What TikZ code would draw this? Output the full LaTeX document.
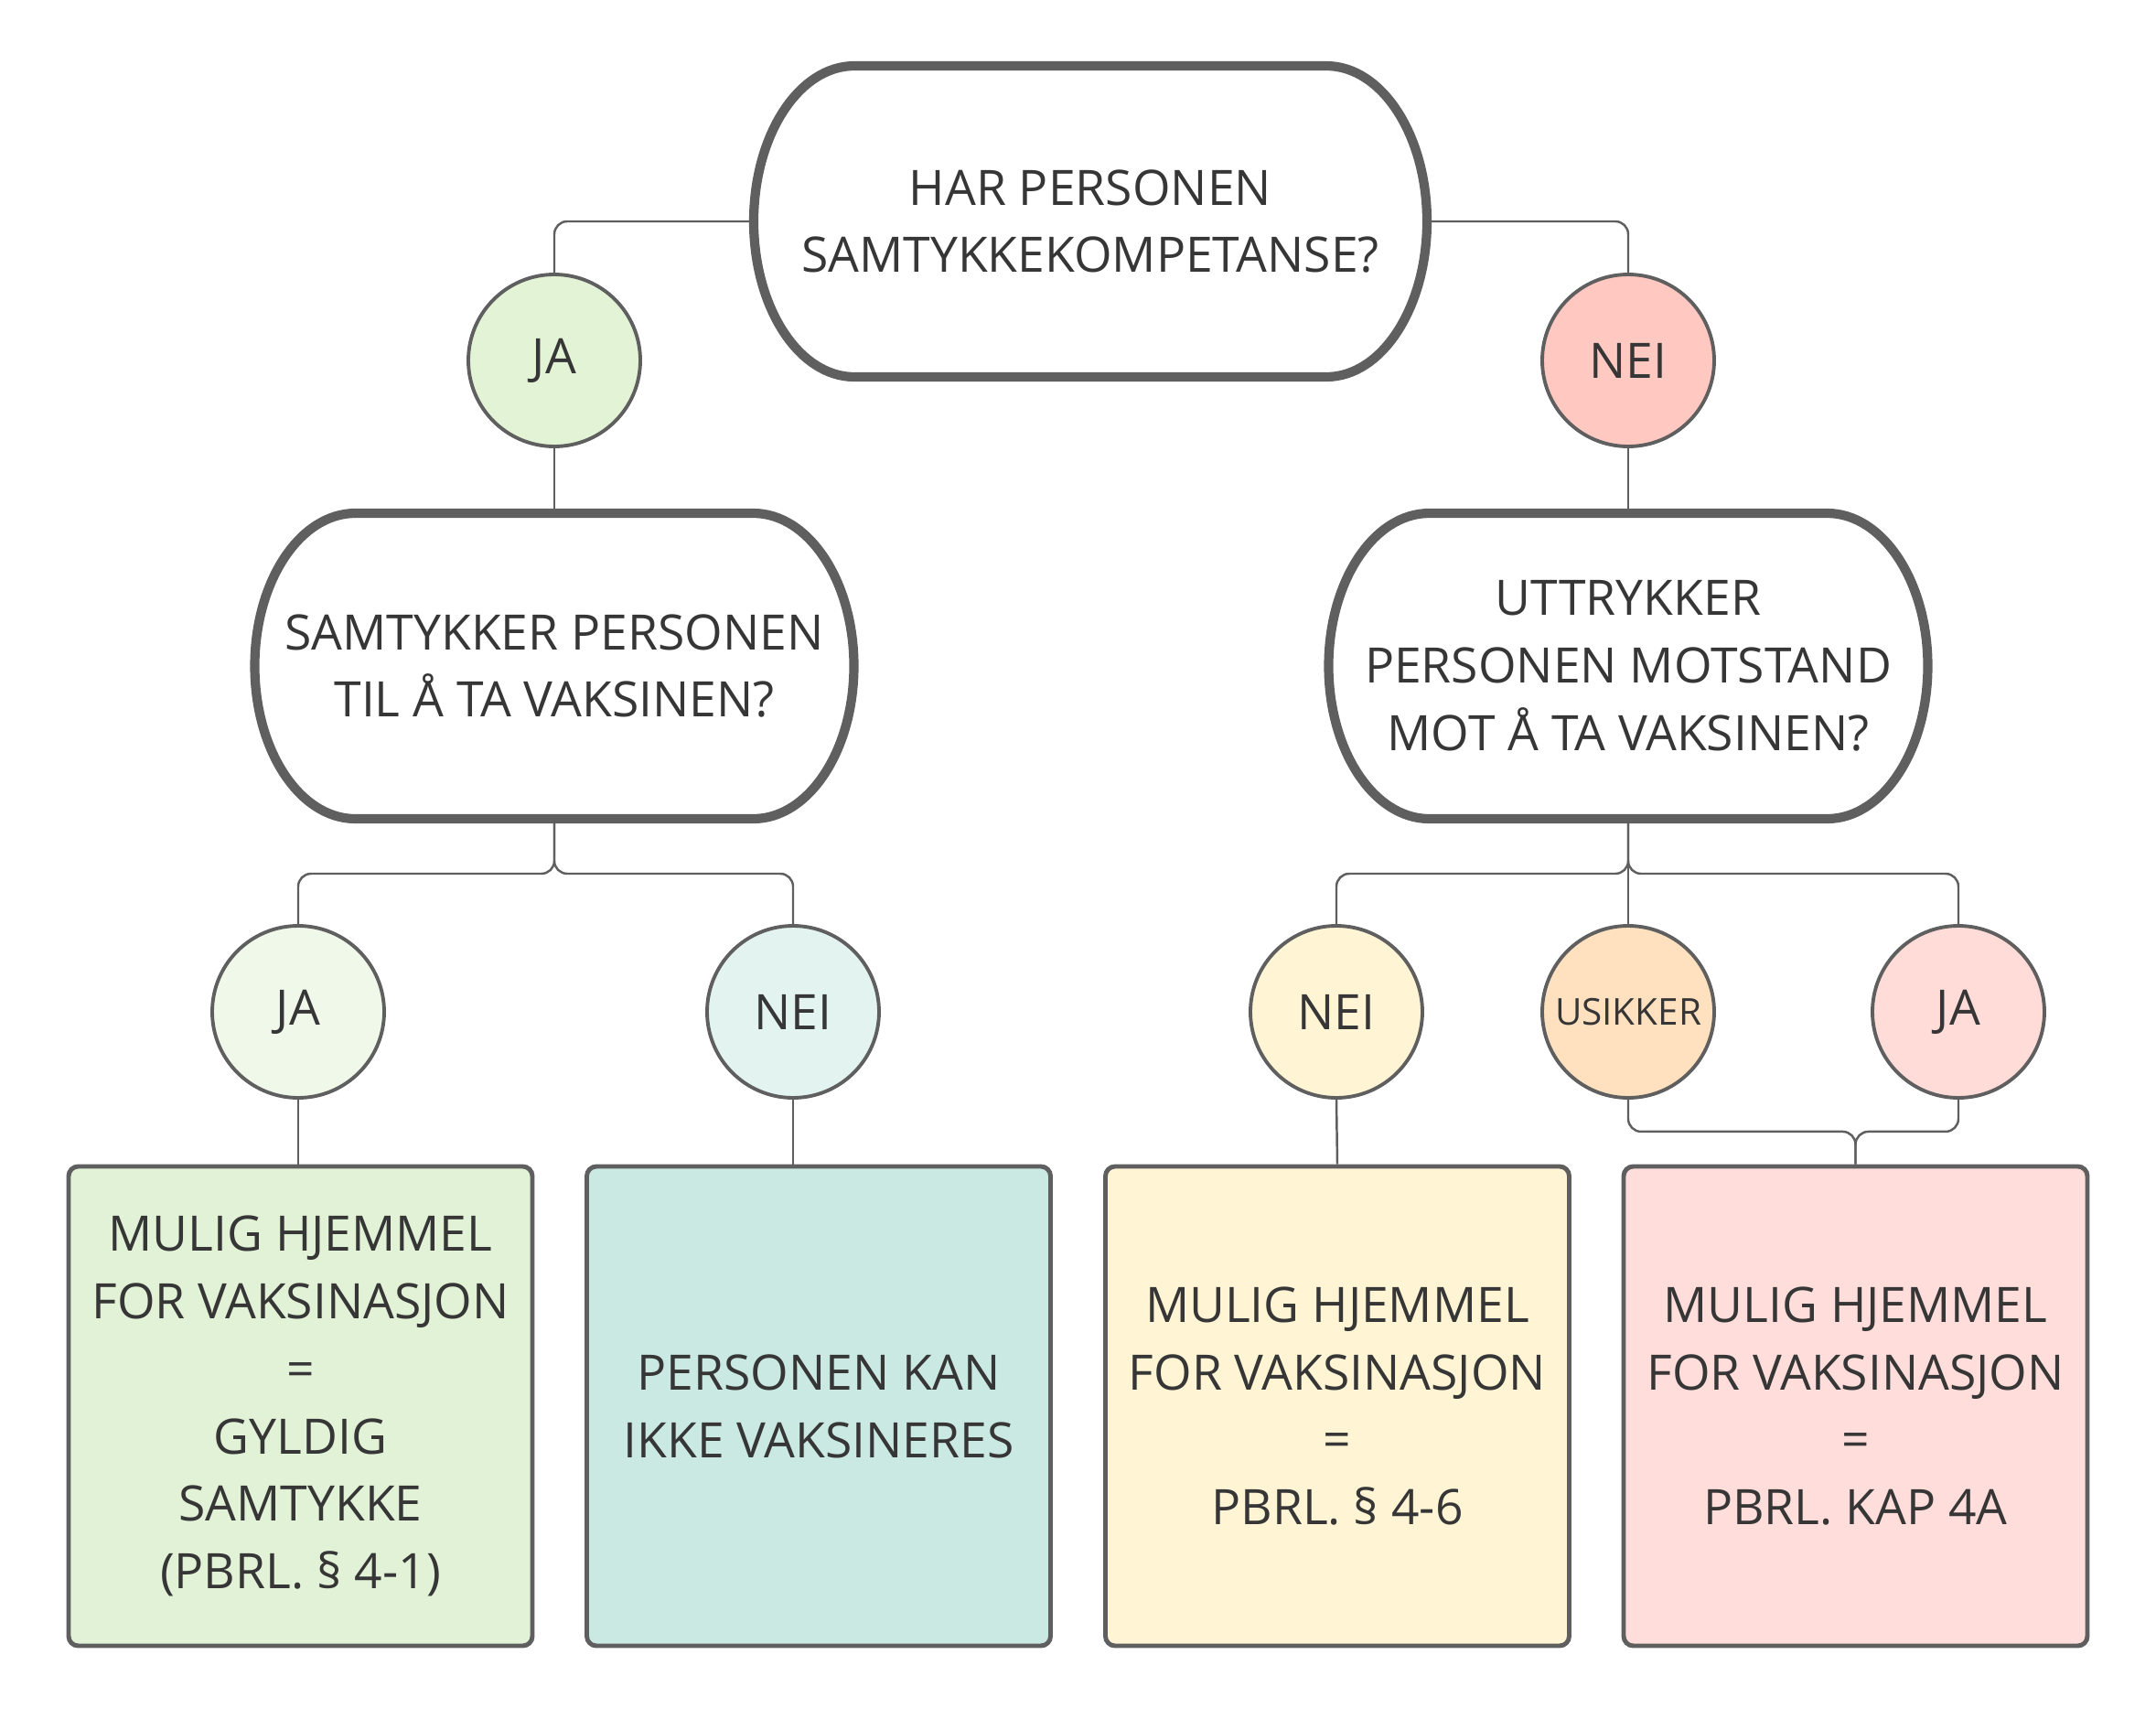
\documentclass[tikz,border=0pt]{standalone}
\usepackage{fontspec}
\setmainfont{Open Sans}
\usetikzlibrary{calc}

\definecolor{edgegray}{HTML}{5F5F5F}
\definecolor{textgray}{HTML}{363636}
\definecolor{jaone}{HTML}{E2F3D6}
\definecolor{neione}{HTML}{FFC9C2}
\definecolor{jatwo}{HTML}{F0F8EA}
\definecolor{neitwo}{HTML}{E3F3F0}
\definecolor{neithree}{HTML}{FFF5D5}
\definecolor{usikkerfill}{HTML}{FFE1C0}
\definecolor{jathree}{HTML}{FFDCD8}
\definecolor{boxgreen}{HTML}{E1F2D6}
\definecolor{boxteal}{HTML}{CBE9E3}
\definecolor{boxyellow}{HTML}{FFF5D5}
\definecolor{boxpink}{HTML}{FFDDDA}

\begin{document}
\begin{tikzpicture}[
    every node/.style={text=textgray, font=\fontsize{15.2}{21}\selectfont, align=center},
    question/.style={minimum width=6.55cm, minimum height=3.34cm, inner sep=0pt, outer sep=0pt},
    answer/.style={circle, draw=edgegray, line width=1.1pt, minimum size=1.88cm, inner sep=0pt},
    result/.style={rectangle, rounded corners=3pt, draw=edgegray, line width=1.4pt,
        minimum width=5.07cm, minimum height=5.24cm, inner sep=0pt},
    link/.style={edgegray, line width=0.7pt, rounded corners=4pt}]

    % Frame
    \useasboundingbox (0,0) rectangle (23.57,-18.79);
    % Questions
    \node[question, minimum width=7.36cm, minimum height=3.40cm] (q1) at (11.92,-2.42)
        {HAR PERSONEN\\SAMTYKKEKOMPETANSE?};
    \node[question] (q2) at (6.06,-7.28) {SAMTYKKER PERSONEN\\TIL Å TA VAKSINEN?};
    \node[question] (q3) at (17.80,-7.28) {UTTRYKKER\\PERSONEN MOTSTAND\\MOT Å TA VAKSINEN?};
    \foreach \q/\ry in {q1/1.70, q2/1.67, q3/1.67}
        \draw[edgegray, line width=2.9pt]
            ($(\q.north west)+(1.1,0)$) -- ($(\q.north east)+(-1.1,0)$)
            arc[start angle=90, end angle=-90, x radius=1.1, y radius=\ry]
            -- ($(\q.south west)+(1.1,0)$)
            arc[start angle=270, end angle=90, x radius=1.1, y radius=\ry] -- cycle;
    % Answers
    \node[answer, fill=jaone] (ja1) at (6.06,-3.94) {JA};
    \node[answer, fill=neione] (nei1) at (17.80,-3.94) {NEI};
    \node[answer, fill=jatwo] (ja2) at (3.26,-11.06) {JA};
    \node[answer, fill=neitwo] (nei2) at (8.67,-11.06) {NEI};
    \node[answer, fill=neithree] (nei3) at (14.61,-11.06) {NEI};
    \node[answer, fill=usikkerfill, font=\fontsize{11.5}{14}\selectfont] (us) at (17.80,-11.06) {USIKKER};
    \node[answer, fill=jathree] (ja3) at (21.41,-11.06) {JA};
    % Results
    \node[result, fill=boxgreen] (box1) at (3.285,-15.37)
        {MULIG HJEMMEL\\FOR VAKSINASJON\\=\\GYLDIG\\SAMTYKKE\\(PBRL. § 4-1)};
    \node[result, fill=boxteal] (box2) at (8.95,-15.37) {PERSONEN KAN\\IKKE VAKSINERES};
    \node[result, fill=boxyellow] (box3) at (14.62,-15.37)
        {MULIG HJEMMEL\\FOR VAKSINASJON\\=\\PBRL. § 4-6};
    \node[result, fill=boxpink] (box4) at (20.285,-15.37)
        {MULIG HJEMMEL\\FOR VAKSINASJON\\=\\PBRL. KAP 4A};
    % Links
    \draw[link] (q1.west) -| (ja1.north);
    \draw[link] (q1.east) -| (nei1.north);
    \draw[link] (ja1.south) -- (q2.north);
    \draw[link] (nei1.south) -- (q3.north);
    \foreach \a in {ja2, nei2}
        \draw[link] (q2.south) -- ++(0,-0.6) -| (\a.north);
    \foreach \a in {nei3, ja3}
        \draw[link] (q3.south) -- ++(0,-0.6) -| (\a.north);
    \draw[link] (q3.south) -- (us.north);
    \draw[link] (ja2.south) -- (ja2.south |- box1.north);
    \draw[link] (nei2.south) -- (nei2.south |- box2.north);
    \draw[link] (nei3.south) -- (box3.north);
    \foreach \a in {us, ja3}
        \draw[link] (\a.south) -- ++(0,-0.35) -| (box4.north);
\end{tikzpicture}
\end{document}
